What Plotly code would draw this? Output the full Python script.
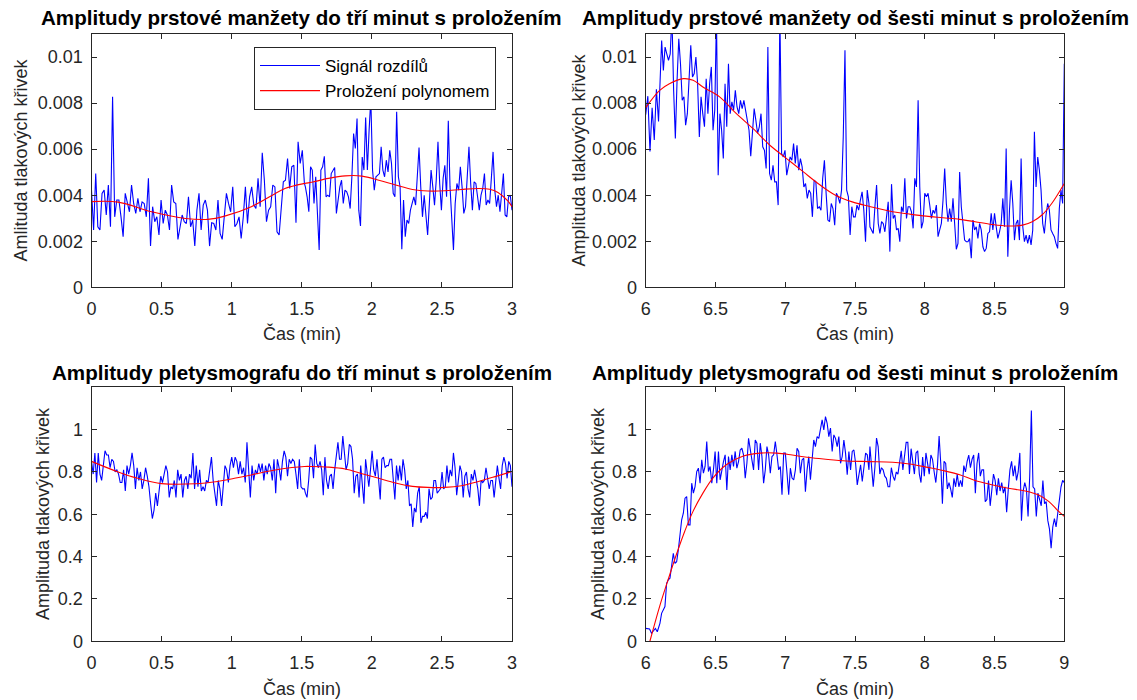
import numpy as np
import plotly.graph_objects as go

# ---------------- DATA ----------------
# Top-left: finger cuff amplitudes, 0-3 min (values x 1e-3)
tl_sig_a = [4.22, 2.49, 4.94, 2.63, 2.49, 4.08, 4.22, 3.14, 4.44, 2.63,
            8.27, 3.06, 3.79, 3.79, 3.06, 2.20, 4.08, 3.64, 3.28, 4.44,
            3.64, 3.21, 3.86, 3.28, 3.71, 3.64, 3.06, 4.73, 1.79, 3.50,
            2.85, 3.06, 2.27, 3.79, 2.77, 3.35, 3.14, 2.49, 4.44, 3.71,
            3.64, 2.08, 2.70, 3.14, 2.85, 2.77, 3.93, 2.63, 2.92, 1.79,
            3.35, 4.08, 2.49, 3.57, 3.79, 3.35, 1.79, 2.80, 2.77, 2.49,
            3.79, 2.34, 2.08, 3.28, 4.08, 3.64, 3.28, 4.36, 2.63, 2.77,
            3.06, 2.12, 3.06, 4.36, 2.77, 3.93, 4.36, 3.57, 3.42, 4.73,
            3.50, 5.84, 4.65, 2.85, 3.35, 3.50, 4.44, 4.36, 2.41, 2.27,
            3.35, 4.58, 4.65, 5.59, 4.29, 5.23, 5.30, 2.80, 6.32, 5.38,
            5.95, 4.51]
tl_sig_b = [4.36, 3.93, 3.28, 5.23, 5.09, 3.64, 4.80, 3.06, 1.62, 5.09,
            5.23, 5.69, 3.93, 4.00, 3.93, 4.94, 5.09, 5.20, 3.21, 3.79,
            4.36, 4.65, 3.64, 4.22, 4.15, 3.93, 3.42, 4.80, 6.68, 6.03,
            7.33, 3.35, 2.66, 5.66, 5.09, 7.37, 5.09, 6.82, 8.19, 5.09,
            4.22, 4.80, 4.87, 4.94, 6.10, 5.09, 4.80, 5.52, 5.01, 5.95,
            5.38, 4.08, 3.93, 7.62, 4.80, 4.36, 1.65, 3.79, 2.20, 2.92,
            2.77, 3.35, 3.64, 3.93, 3.57, 4.87, 6.07, 4.36, 3.06, 4.00,
            2.92, 2.27, 3.64, 5.09, 4.36, 3.57, 4.65, 6.32, 4.51, 3.35,
            4.73, 5.30, 3.93, 7.23, 4.36, 2.70, 1.62, 3.64, 4.51, 4.22,
            5.23, 4.36, 3.21, 3.50, 4.80, 6.10, 4.51, 3.35, 4.58, 4.51,
            3.93, 3.35, 4.00, 4.29, 4.94, 3.57, 3.79, 3.64, 4.73, 5.88,
            4.22, 3.50, 4.00, 3.28, 4.08, 4.94, 3.14, 3.06, 3.93, 4.00,
            3.35]
tl_fit_t = [0.0, 0.19, 0.43, 0.67, 0.83, 0.95, 1.14, 1.29, 1.38, 1.52, 1.57, 1.69,
            1.81, 1.93, 2.05, 2.17, 2.29, 2.40, 2.52, 2.64, 2.76, 2.84, 2.90, 2.97, 3.0]
tl_fit_v = [3.72, 3.70, 3.28, 2.99, 2.95, 3.09, 3.50, 4.00, 4.29, 4.51, 4.56, 4.73,
            4.84, 4.83, 4.65, 4.44, 4.25, 4.18, 4.19, 4.25, 4.29, 4.26, 4.12, 3.75, 3.50]

# Top-right: finger cuff amplitudes, 6-9 min (values x 1e-3)
tr_sig_0 = [7.5, 8.3, 5.9, 7.8, 6.4, 8.6, 7.2]
tr_sig_a = [8.99, 10.72, 9.42, 10.43, 10.14, 9.86, 10.14, 11.8, 8.55, 6.46,
            8.99, 10.79, 9.71, 8.12, 8.27, 7.04, 7.54, 9.28, 10.51, 9.13,
            9.28, 10.0, 8.84, 6.53, 8.27, 7.54, 6.97, 9.06, 7.54, 8.84,
            9.57, 6.82, 7.69, 11.8, 4.87, 7.54, 6.82, 5.59, 8.84, 6.97,
            9.71, 7.54, 8.05, 7.69, 8.55, 7.83, 7.54, 8.12, 7.76, 8.12,
            7.69, 7.40, 6.82, 5.69, 6.68, 7.76, 7.25, 6.68, 6.97, 7.54,
            6.10, 5.95, 5.16, 10.43, 4.94, 4.65, 5.30, 4.58, 4.58, 3.57,
            12.0, 5.81, 5.66, 5.95, 4.87, 5.23, 5.66, 5.52, 6.24, 5.38,
            6.17, 5.09, 5.59, 5.23, 4.36, 4.51, 3.86, 4.22, 4.08, 3.06,
            4.65, 4.58, 3.42, 3.50, 3.35, 4.73, 5.52, 4.08, 2.92, 2.85,
            3.64, 3.42, 2.70, 4.08, 3.93, 3.64, 4.22, 6.53, 10.29, 4.22,
            3.93, 2.27, 3.50, 3.06, 3.06, 3.57, 3.35, 3.79, 4.15, 3.35,
            1.98, 4.22, 3.64]
tr_sig_b = [2.63, 2.49, 2.34, 3.50, 4.44, 2.77, 2.34, 2.85, 2.77, 2.41,
            3.21, 3.71, 1.55, 4.48, 2.99, 3.14, 2.49, 2.56, 1.98, 3.50,
            3.28, 4.73, 2.99, 3.50, 3.50, 3.28, 2.56, 4.73, 4.36, 8.12,
            4.36, 2.56, 2.85, 4.08, 3.93, 4.08, 3.57, 2.99, 3.35, 3.21,
            3.57, 2.20, 2.49, 2.77, 3.79, 5.16, 3.64, 2.85, 3.42, 2.85,
            3.86, 2.63, 1.65, 1.91, 5.01, 3.50, 2.63, 2.05, 1.98, 1.98,
            2.12, 1.26, 2.92, 2.49, 2.63, 2.12, 2.77, 2.49, 1.76, 1.55,
            1.69, 2.34, 2.41, 3.21, 2.49, 3.21, 2.63, 2.12, 2.41, 2.77,
            3.86, 2.63, 6.03, 1.33, 3.35, 4.65, 3.64, 2.05, 2.77, 2.92,
            2.05, 5.59, 2.63, 1.98, 2.27, 1.91, 2.27, 1.84, 2.49, 6.75,
            4.36, 5.66, 5.09, 4.22, 2.77, 2.34, 3.14, 3.64, 3.35, 2.49,
            2.34, 2.20, 1.91, 1.69, 3.42, 4.22, 3.64, 9.71]
tr_fit_t = [6.0, 6.10, 6.17, 6.27, 6.34, 6.41, 6.53, 6.65, 6.77, 6.89, 7.01, 7.13,
            7.25, 7.36, 7.48, 7.60, 7.77, 7.89, 8.01, 8.13, 8.25, 8.36, 8.48,
            8.60, 8.70, 8.77, 8.84, 8.91, 9.0]
tr_fit_v = [7.80, 8.55, 8.84, 9.06, 8.99, 8.70, 8.27, 7.54, 6.89, 6.17, 5.59, 5.01,
            4.44, 4.00, 3.71, 3.52, 3.28, 3.18, 3.09, 3.02, 2.95, 2.85, 2.73,
            2.66, 2.70, 2.85, 3.14, 3.64, 4.51]

# Bottom-left: plethysmograph amplitudes, 0-3 min
bl_sig_a = [0.85, 0.79, 0.89, 0.75, 0.89, 0.79, 0.76, 0.85, 0.90, 0.88,
            0.88, 0.82, 0.86, 0.85, 0.80, 0.81, 0.79, 0.75, 0.75, 0.81,
            0.71, 0.83, 0.79, 0.83, 0.89, 0.83, 0.72, 0.82, 0.76, 0.80,
            0.72, 0.76, 0.82, 0.78, 0.73, 0.65, 0.58, 0.62, 0.70, 0.64,
            0.70, 0.78, 0.75, 0.79, 0.83, 0.80, 0.68, 0.73, 0.72, 0.76,
            0.68, 0.81, 0.76, 0.79, 0.68, 0.76, 0.78, 0.72, 0.79, 0.77,
            0.89, 0.72, 0.83, 0.73, 0.81, 0.71, 0.73, 0.71, 0.76, 0.75,
            0.81, 0.87, 0.76, 0.69, 0.64, 0.76, 0.72, 0.64, 0.76, 0.83,
            0.81, 0.75, 0.83, 0.87, 0.82, 0.87, 0.85, 0.79, 0.85, 0.79,
            0.82, 0.75, 0.94, 0.78, 0.68, 0.83, 0.76, 0.81, 0.79, 0.84,
            0.80, 0.84, 0.76, 0.83, 0.79, 0.84, 0.82, 0.76, 0.86, 0.70,
            0.86, 0.82, 0.76, 0.85, 0.90, 0.87, 0.78, 0.86, 0.84, 0.86,
            0.85, 0.79, 0.72, 0.86, 0.73, 0.72, 0.72]
bl_sig_b = [0.70, 0.68, 0.76, 0.87, 0.86, 0.77, 0.93, 0.84, 0.82, 0.85,
            0.81, 0.69, 0.87, 0.76, 0.72, 0.78, 0.79, 0.72, 0.81, 0.87,
            0.94, 0.86, 0.86, 0.97, 0.89, 0.81, 0.84, 0.93, 0.92, 0.86,
            0.70, 0.78, 0.79, 0.68, 0.83, 0.72, 0.65, 0.86, 0.78, 0.73,
            0.81, 0.90, 0.81, 0.78, 0.86, 0.76, 0.67, 0.86, 0.87, 0.82,
            0.83, 0.83, 0.86, 0.86, 0.76, 0.67, 0.83, 0.76, 0.83, 0.76,
            0.86, 0.81, 0.72, 0.76, 0.64, 0.65, 0.54, 0.63, 0.61, 0.70,
            0.73, 0.56, 0.59, 0.59, 0.61, 0.58, 0.72, 0.67, 0.68, 0.76,
            0.76, 0.70, 0.71, 0.72, 0.80, 0.72, 0.73, 0.83, 0.75, 0.81,
            0.78, 0.89, 0.82, 0.69, 0.76, 0.83, 0.80, 0.68, 0.78, 0.80,
            0.72, 0.68, 0.79, 0.76, 0.81, 0.76, 0.72, 0.64, 0.76, 0.75,
            0.76, 0.82, 0.77, 0.72, 0.76, 0.76, 0.68, 0.76, 0.83, 0.77,
            0.72, 0.83, 0.87, 0.84, 0.77, 0.85, 0.83, 0.73]
bl_fit_t = [0.0, 0.19, 0.33, 0.50, 0.74, 0.90, 1.02, 1.14, 1.29, 1.43, 1.52, 1.57,
            1.69, 1.81, 1.93, 2.05, 2.17, 2.29, 2.40, 2.52, 2.64, 2.76, 2.88, 3.0]
bl_fit_v = [0.850, 0.800, 0.770, 0.745, 0.744, 0.755, 0.770, 0.786, 0.807, 0.821,
            0.826, 0.826, 0.823, 0.814, 0.792, 0.770, 0.748, 0.732, 0.727, 0.727,
            0.735, 0.755, 0.778, 0.802]

# Bottom-right: plethysmograph amplitudes, 6-9 min
br_sig_0 = [0.061, 0.061, 0.058, 0.038, 0.050, 0.061, 0.045, 0.077]
br_sig_a = [0.085, 0.132, 0.148, 0.164, 0.274, 0.290, 0.298, 0.353, 0.416, 0.368,
            0.376, 0.432, 0.510, 0.574, 0.605, 0.676, 0.684, 0.550, 0.550, 0.747,
            0.700, 0.731, 0.802, 0.818, 0.747, 0.857, 0.794, 0.826, 0.944, 0.802,
            0.826, 0.747, 0.810, 0.897, 0.747, 0.897, 0.763, 0.810, 0.849, 0.881,
            0.715, 0.873, 0.810, 0.881, 0.826, 0.897, 0.818, 0.849, 0.904, 0.912,
            0.881, 0.771, 0.841, 0.959, 0.897, 0.857, 0.810, 0.951, 0.936, 0.810,
            0.936, 0.873, 0.747, 0.810, 0.920, 0.881, 0.794, 0.873, 0.881, 0.944,
            0.881, 0.810, 0.826, 0.692, 0.889, 0.889, 0.794, 0.692, 0.818, 0.771,
            0.763, 0.810, 0.912, 0.897, 0.794, 0.857, 0.865, 0.707, 0.810, 0.873,
            0.763, 0.865, 0.951, 0.920, 0.967, 0.959, 1.015, 1.046, 0.999, 1.062,
            1.030, 0.967, 1.007, 0.897, 0.975, 0.959, 0.920, 0.967, 0.841, 0.873,
            0.951, 0.889, 0.787, 0.897, 0.810, 0.897, 0.904, 0.841, 0.739, 0.787,
            0.834, 0.755, 0.810, 0.889, 0.881, 0.810]
br_sig_b = [0.92, 0.81, 0.73, 0.82, 0.96, 0.92, 0.79, 0.82, 0.81, 0.78,
            0.77, 0.73, 0.73, 0.82, 0.78, 0.76, 0.80, 0.79, 0.85, 0.90,
            0.81, 0.89, 0.94, 0.94, 0.79, 0.91, 0.84, 0.79, 0.89, 0.90,
            0.79, 0.75, 0.87, 0.78, 0.89, 0.83, 0.79, 0.88, 0.86, 0.80,
            0.75, 0.83, 0.97, 0.84, 0.65, 0.85, 0.84, 0.72, 0.75, 0.72,
            0.68, 0.77, 0.73, 0.79, 0.73, 0.76, 0.73, 0.83, 0.80, 0.85,
            0.88, 0.82, 0.86, 0.88, 0.70, 0.84, 0.89, 0.78, 0.81, 0.81,
            0.66, 0.67, 0.76, 0.64, 0.72, 0.79, 0.76, 0.69, 0.77, 0.71,
            0.75, 0.70, 0.73, 0.61, 0.72, 0.81, 0.85, 0.78, 0.83, 0.76,
            0.80, 0.89, 0.57, 0.71, 0.75, 0.72, 0.59, 0.78, 1.09, 0.73,
            0.72, 0.59, 0.70, 0.67, 0.64, 0.76, 0.65, 0.66, 0.57, 0.53,
            0.44, 0.54, 0.58, 0.54, 0.61, 0.65, 0.73, 0.76, 0.75]
br_fit_t = [6.0, 6.03, 6.10, 6.16, 6.22, 6.28, 6.34, 6.41, 6.48, 6.58, 6.70, 6.82,
            6.94, 7.05, 7.17, 7.29, 7.44, 7.60, 7.77, 7.89, 8.01, 8.13, 8.25,
            8.36, 8.48, 8.60, 8.72, 8.82, 8.89, 8.95, 9.0]
br_fit_v = [-0.075, 0.0, 0.165, 0.29, 0.41, 0.52, 0.615, 0.70, 0.77, 0.835, 0.875, 0.889,
            0.889, 0.88, 0.868, 0.86, 0.852, 0.849, 0.846, 0.838, 0.823, 0.807, 0.787,
            0.760, 0.740, 0.723, 0.710, 0.690, 0.660, 0.620, 0.590]

# Sample-time spans of each recorded segment (min)
tl_spans = [(0.0, 1.519), (1.526, 3.0)]
tr_spans = [(6.0, 6.092), (6.102, 7.600), (7.607, 9.0)]
br_spans = [(6.0, 6.097), (6.102, 7.600), (7.607, 9.0)]

x_ticks_left = [0, 0.5, 1, 1.5, 2, 2.5, 3]
x_ticks_right = [6, 6.5, 7, 7.5, 8, 8.5, 9]
y_ticks_top = [0, 0.002, 0.004, 0.006, 0.008, 0.01]
y_ticks_top_text = ["0", "0.002", "0.004", "0.006", "0.008", "0.01"]
y_ticks_bot = [0, 0.2, 0.4, 0.6, 0.8, 1]
y_ticks_bot_text = ["0", "0.2", "0.4", "0.6", "0.8", "1"]

titles = ["Amplitudy prstové manžety do tří minut s proložením",
          "Amplitudy prstové manžety od šesti minut s proložením",
          "Amplitudy pletysmografu do tří minut s proložením",
          "Amplitudy pletysmografu od šesti minut s proložením"]
ylabels = ["Amlituda tlakových křivek", "Amplituda tlakových křivek",
           "Amplituda tlakových křivek", "Amplituda tlakových křivek"]
xlabel = "Čas (min)"
legend_names = ["Signál rozdílů", "Proložení polynomem"]


def build(segments, spans, scale=1.0):
    t_all, v_all = [], []
    for seg, (a, b) in zip(segments, spans):
        t_all.extend(np.linspace(a, b, len(seg)).tolist())
        v_all.extend([v * scale for v in seg])
    return t_all, v_all


tl_t, tl_v = build([tl_sig_a, tl_sig_b], tl_spans, 1e-3)
tr_t, tr_v = build([tr_sig_0, tr_sig_a, tr_sig_b], tr_spans, 1e-3)
bl_t, bl_v = build([bl_sig_a, bl_sig_b], tl_spans)
br_t, br_v = build([br_sig_0, br_sig_a, br_sig_b], br_spans)

BLUE = "#0000FF"
RED = "#FF0000"
FONT = "Liberation Sans, Arial, Helvetica, sans-serif"
AX = "#262626"

fig = go.Figure()
panels = [
    (tl_t, tl_v, tl_fit_t, [v * 1e-3 for v in tl_fit_v], "x", "y", True),
    (tr_t, tr_v, tr_fit_t, [v * 1e-3 for v in tr_fit_v], "x2", "y2", False),
    (bl_t, bl_v, bl_fit_t, bl_fit_v, "x3", "y3", False),
    (br_t, br_v, br_fit_t, br_fit_v, "x4", "y4", False),
]
for st, sv, ft, fv, xa, ya, leg in panels:
    fig.add_trace(go.Scatter(x=st, y=sv, mode="lines", xaxis=xa, yaxis=ya,
                             line=dict(color=BLUE, width=1.1), name=legend_names[0],
                             showlegend=leg, hoverinfo="skip"))
    fig.add_trace(go.Scatter(x=ft, y=fv, mode="lines", xaxis=xa, yaxis=ya,
                             line=dict(color=RED, width=1.1, shape="spline", smoothing=1.0),
                             name=legend_names[1], showlegend=leg, hoverinfo="skip"))

W, H = 1137, 700
xl = [91.5 / W, 512.0 / W]
xr = [645.7 / W, 1064.3 / W]
yt = [1 - 287.3 / H, 1 - 34.0 / H]
yb = [1 - 641.3 / H, 1 - 387.3 / H]


def xaxis(dom, rng, ticks, anchor):
    return dict(domain=dom, range=rng, tickvals=ticks, ticktext=[f"{t:g}" for t in ticks],
                anchor=anchor, showline=True, linecolor=AX, linewidth=1, mirror="ticks",
                ticks="inside", ticklen=5, tickcolor=AX, showgrid=False, zeroline=False,
                tickfont=dict(family=FONT, size=18, color=AX), ticklabelstandoff=5,
                automargin=False, fixedrange=True)


def yaxis(dom, rng, ticks, text, anchor):
    return dict(domain=dom, range=rng, tickvals=ticks, ticktext=text, anchor=anchor,
                showline=True, linecolor=AX, linewidth=1, mirror="ticks",
                ticks="inside", ticklen=5, tickcolor=AX, showgrid=False, zeroline=False,
                tickfont=dict(family=FONT, size=18, color=AX), ticklabelstandoff=4,
                automargin=False, fixedrange=True)


fig.update_layout(
    width=W, height=H, autosize=False,
    margin=dict(l=0, r=0, t=0, b=0, pad=0, autoexpand=False),
    paper_bgcolor="white", plot_bgcolor="white",
    font=dict(family=FONT, size=18, color=AX),
    xaxis=xaxis(xl, [0, 3], x_ticks_left, "y"),
    yaxis=yaxis(yt, [0, 0.011], y_ticks_top, y_ticks_top_text, "x"),
    xaxis2=xaxis(xr, [6, 9], x_ticks_right, "y2"),
    yaxis2=yaxis(yt, [0, 0.011], y_ticks_top, y_ticks_top_text, "x2"),
    xaxis3=xaxis(xl, [0, 3], x_ticks_left, "y3"),
    yaxis3=yaxis(yb, [0, 1.2], y_ticks_bot, y_ticks_bot_text, "x3"),
    xaxis4=xaxis(xr, [6, 9], x_ticks_right, "y4"),
    yaxis4=yaxis(yb, [0, 1.2], y_ticks_bot, y_ticks_bot_text, "x4"),
    showlegend=True,
    legend=dict(x=254 / W, y=1 - 47 / H, xanchor="left", yanchor="top",
                bgcolor="white", bordercolor=AX, borderwidth=1,
                font=dict(family=FONT, size=17, color="#000000"),
                itemwidth=60, tracegroupgap=0),
)

ann = []
centers_x = [(xl[0] + xl[1]) / 2, (xr[0] + xr[1]) / 2, (xl[0] + xl[1]) / 2, (xr[0] + xr[1]) / 2]
title_y = [1 - 18 / H, 1 - 18 / H, 1 - 373 / H, 1 - 373 / H]
xlab_y = [1 - 333 / H, 1 - 333 / H, 1 - 688 / H, 1 - 688 / H]
ylab_x = [20 / W, 578 / W, 43 / W, 598 / W]
ylab_y = [1 - 160.5 / H, 1 - 160.5 / H, 1 - 514 / H, 1 - 514 / H]
for i in range(4):
    ann.append(dict(text="<b>" + titles[i] + "</b>", x=centers_x[i], y=title_y[i],
                    xref="paper", yref="paper", xanchor="center", yanchor="middle",
                    showarrow=False, font=dict(family=FONT, size=20.6, color="#000000")))
    ann.append(dict(text=xlabel, x=centers_x[i], y=xlab_y[i], xref="paper", yref="paper",
                    xanchor="center", yanchor="middle", showarrow=False,
                    font=dict(family=FONT, size=18, color=AX)))
    ann.append(dict(text=ylabels[i], x=ylab_x[i], y=ylab_y[i], xref="paper", yref="paper",
                    xanchor="center", yanchor="middle", showarrow=False, textangle=-90,
                    font=dict(family=FONT, size=18, color=AX)))
fig.update_layout(annotations=ann)

fig.write_html("out.html")
